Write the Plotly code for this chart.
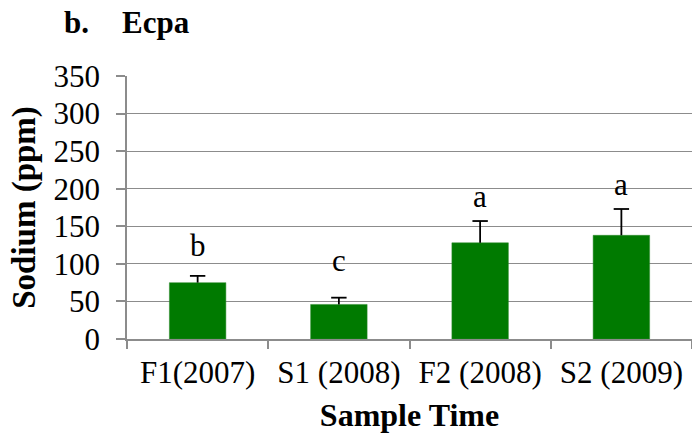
import plotly.graph_objects as go

categories = ["F1(2007)", "S1 (2008)", "F2 (2008)", "S2 (2009)"]
sodium = [75, 46, 128, 138]
sodium_err = [9, 9, 29, 35]
letters = ["b", "c", "a", "a"]
letter_y = [125, 105, 190, 206]

FONT = "Liberation Serif, Times New Roman, serif"
GRID = "#8c8c8c"

fig = go.Figure()
fig.add_trace(go.Bar(
    x=categories, y=sodium, width=0.4,
    marker=dict(color="#007a00", line=dict(color="#2e8b2e", width=0.5)),
    showlegend=False, hoverinfo="skip",
))

# upper-only error bars: stems + caps
ex, ey = [], []
for c, v, e in zip(categories, sodium, sodium_err):
    ex += [c, c, None]
    ey += [v, v + e, None]
fig.add_trace(go.Scatter(x=ex, y=ey, mode="lines", line=dict(color="black", width=1.8),
                         showlegend=False, hoverinfo="skip"))
fig.add_trace(go.Scatter(x=categories, y=[v + e for v, e in zip(sodium, sodium_err)],
                         mode="markers",
                         marker=dict(symbol="line-ew", size=11, line=dict(color="black", width=1.8)),
                         showlegend=False, hoverinfo="skip"))

for c, l, y in zip(categories, letters, letter_y):
    fig.add_annotation(x=c, y=y, text=l, showarrow=False, xref="x", yref="y",
                       yanchor="middle", font=dict(family=FONT, size=31, color="black"))

fig.add_annotation(xref="paper", yref="paper", x=(76 - 127) / 565, y=1 + (76 - 22) / 263,
                   text="<b>b.</b>", showarrow=False, xanchor="center", yanchor="middle",
                   font=dict(family=FONT, size=31, color="black"))
fig.add_annotation(xref="paper", yref="paper", x=(156 - 127) / 565, y=1 + (76 - 22) / 263,
                   text="<b>Ecpa</b>", showarrow=False, xanchor="center", yanchor="middle",
                   font=dict(family=FONT, size=31, color="black"))

fig.update_layout(
    width=692, height=441,
    margin=dict(l=127, r=0, t=76, b=102),
    paper_bgcolor="white", plot_bgcolor="white",
    font=dict(family=FONT, size=31, color="black"),
    bargap=0.6,
    xaxis=dict(
        showline=True, linecolor=GRID, linewidth=1.5,
        ticks="outside", ticklen=8, tickcolor=GRID, tickwidth=1.5,
        tickson="boundaries", showgrid=False,
        tickfont=dict(family=FONT, size=31, color="black"),
        ticklabelstandoff=5,
        title=dict(text="<b>Sample Time</b>", font=dict(family=FONT, size=32, color="black"),
                   standoff=15),
    ),
    yaxis=dict(
        range=[0, 350], dtick=50, showline=True, linecolor=GRID, linewidth=1.5,
        ticks="outside", ticklen=9, tickcolor=GRID, tickwidth=1.5,
        showgrid=True, gridcolor=GRID, gridwidth=1.2, zeroline=False,
        tickfont=dict(family=FONT, size=31, color="black"),
        ticklabelstandoff=10,
        title=dict(text="<b>Sodium (ppm)</b>", font=dict(family=FONT, size=33, color="black"),
                   standoff=8),
    ),
)

fig.write_html("out.html")
